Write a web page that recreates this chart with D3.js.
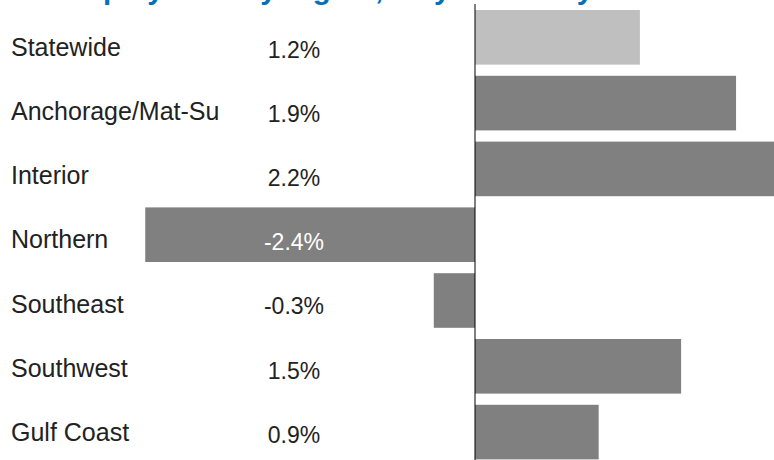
<!DOCTYPE html>
<html>
<head>
<meta charset="utf-8">
<script src="https://cdn.jsdelivr.net/npm/d3@7"></script>
<style>
    html, body { margin: 0; padding: 0; background: #fff; }
    svg { display: block; font-family: "Liberation Sans", Arial, sans-serif; }
</style>
</head>
<body>
<svg id="chart" width="774" height="460"></svg>
<script>
// chart data
const regions = ['Statewide', 'Anchorage/Mat-Su', 'Interior', 'Northern', 'Southeast', 'Southwest', 'Gulf Coast'];
const changes = [1.2, 1.9, 2.2, -2.4, -0.3, 1.5, 0.9];
const valueLabels = ['1.2%', '1.9%', '2.2%', '-2.4%', '-0.3%', '1.5%', '0.9%'];
const titleText = 'Employment by region, July 2018-July 2019';

const width = 774;
const height = 460;

const svg = d3.select('#chart');

// x scale: zero sits at 475, ~137.4px per percent
const x = d3.scaleLinear()
    .domain([-2.5, 2.5])
    .range([131.5, 818.5]);

// bars
const y = d3.scaleBand()
    .domain(regions)
    .range([10, 459.4])
    .paddingInner(0.17)
    .paddingOuter(0);

// text rows use a slightly tighter pitch than the bars
const yLabel = d3.scalePoint()
    .domain(regions)
    .range([55.8, 441]);

const rows = regions.map((r, i) => ({ region: r, value: changes[i], label: valueLabels[i] }));

// title, mostly above the top edge (only descenders show)
svg.append('text')
    .attr('x', 57)
    .attr('y', -1)
    .attr('fill', '#0072bc')
    .style('font-size', '29.5px')
    .style('font-weight', 'bold')
    .text(titleText);

svg.append('g')
    .attr('class', 'bars')
    .selectAll('rect')
    .data(rows)
    .enter()
    .append('rect')
    .attr('x', d => x(Math.min(0, d.value)))
    .attr('y', d => y(d.region))
    .attr('width', d => Math.abs(x(d.value) - x(0)))
    .attr('height', y.bandwidth())
    .attr('fill', d => d.region === 'Statewide' ? '#bfbfbf' : '#808080');

// zero line
svg.append('line')
    .attr('x1', x(0))
    .attr('x2', x(0))
    .attr('y1', 4)
    .attr('y2', height)
    .attr('stroke', '#000')
    .attr('stroke-width', 1);

// region names
svg.append('g')
    .selectAll('text')
    .data(rows)
    .enter()
    .append('text')
    .attr('x', 11)
    .attr('y', d => yLabel(d.region))
    .attr('fill', '#222')
    .style('font-size', '25px')
    .text(d => d.region);

// value labels, white when sitting on a bar
const valueX = 294;
svg.append('g')
    .selectAll('text')
    .data(rows)
    .enter()
    .append('text')
    .attr('x', valueX)
    .attr('y', d => yLabel(d.region) + 1.8)
    .attr('text-anchor', 'middle')
    .attr('fill', d => x(d.value) < valueX - 26 ? '#fff' : '#222')
    .style('font-size', '23px')
    .text(d => d.label);
</script>
</body>
</html>
